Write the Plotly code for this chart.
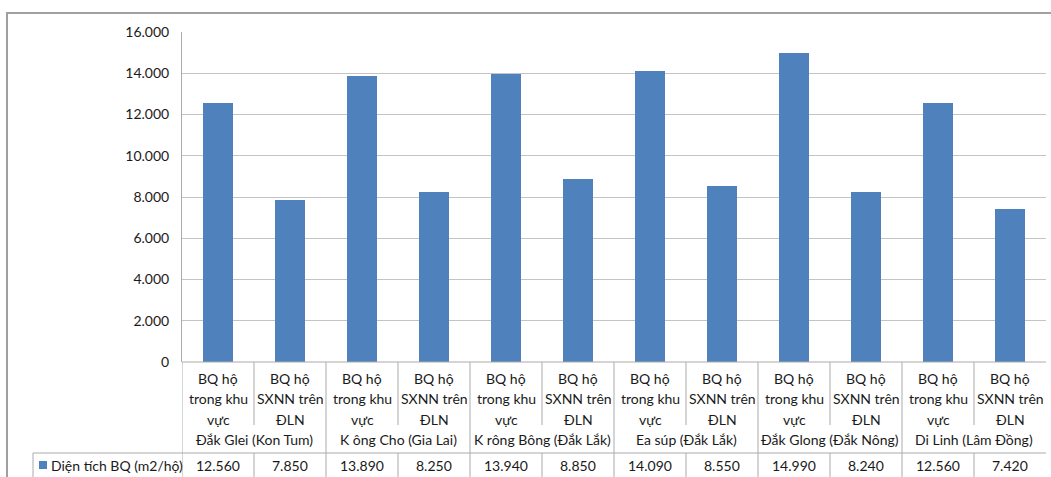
import plotly.graph_objects as go

# Bars: two indicators per district
districts = ["Đắk Glei (Kon Tum)", "K ông Cho (Gia Lai)", "K rông Bông (Đắk Lắk)",
             "Ea súp (Đắk Lắk)", "Đắk Glong (Đắk Nông)", "Di Linh (Lâm Đồng)"]
indicators = [["BQ hộ", "trong khu", "vực"], ["BQ hộ", "SXNN trên", "ĐLN"]]
values = [12560, 7850, 13890, 8250, 13940, 8850,
          14090, 8550, 14990, 8240, 12560, 7420]
series_name = "Diện tích BQ (m2/hộ)"
y_ticks = [0, 2000, 4000, 6000, 8000, 10000, 12000, 14000, 16000]

W, H = 1051, 477
BLUE = "#4F81BD"
GRID = "#c4c4c4"
LINE = "#ababab"
FONT = "Lato"
FS = 14
TXT = "#1a1a1a"

# pixel helpers for the table drawn under the plot area
def py(p):
    return 1 - p / H

def px(p):
    return p / W

x_left, x_right = 182, 1046
y_top, y_zero = 32, 362
y_cat_end, y_row_top = 425, 453

n = len(values)
xs = list(range(n))

fig = go.Figure()
fig.add_trace(go.Bar(
    x=xs, y=values, name=series_name,
    marker=dict(color=BLUE, line=dict(width=0)),
    width=0.41, showlegend=False,
))

shapes = []
annotations = []
lw = dict(color=LINE, width=1)

# horizontal rules: axis baseline and top of the data row
shapes.append(dict(type="line", xref="paper", yref="paper",
                   x0=px(x_left), x1=px(x_right), y0=py(y_zero), y1=py(y_zero), line=lw))
shapes.append(dict(type="line", xref="paper", yref="paper",
                   x0=px(33), x1=px(x_right), y0=py(y_row_top), y1=py(y_row_top), line=lw))
shapes.append(dict(type="line", xref="paper", yref="paper",
                   x0=px(33), x1=px(33), y0=py(y_row_top), y1=-0.02, line=lw))

# vertical dividers between columns (no rule after the last column)
for k in range(n):
    xb = k - 0.5
    group_edge = (k % 2 == 0)
    shapes.append(dict(type="line", xref="x", yref="paper",
                       x0=xb, x1=xb, y0=py(y_zero),
                       y1=py(y_row_top if group_edge else y_cat_end), line=lw))
    shapes.append(dict(type="line", xref="x", yref="paper",
                       x0=xb, x1=xb, y0=py(y_row_top), y1=-0.02, line=lw))

def label(x, y, text, xref="x", xanchor="center"):
    annotations.append(dict(x=x, y=py(y), xref=xref, yref="paper",
                            text=text, showarrow=False,
                            xanchor=xanchor, yanchor="middle",
                            font=dict(family=FONT, size=FS, color=TXT)))

# category labels (three lines each), group labels and values
for i, v in enumerate(values):
    for j, line in enumerate(indicators[i % 2]):
        label(i, 378 + 20.5 * j, line)
    label(i, 465, f"{v:,}".replace(",", "."))
for g, name in enumerate(districts):
    label(2 * g + 0.5, 439, name)

# legend key inside the data row
shapes.append(dict(type="rect", xref="paper", yref="paper",
                   x0=px(39), x1=px(47), y0=py(469), y1=py(461),
                   fillcolor=BLUE, line=dict(width=0)))
label(px(49), 465, series_name, xref="paper", xanchor="left")

# chart frame
shapes.append(dict(type="rect", xref="paper", yref="paper",
                   x0=px(7), x1=1.02, y0=-0.05, y1=py(13),
                   line=dict(color="#a0a0a0", width=2), fillcolor="rgba(0,0,0,0)"))

fig.update_layout(
    width=W, height=H,
    margin=dict(l=0, r=0, t=0, b=0, autoexpand=False),
    paper_bgcolor="white", plot_bgcolor="white",
    separators=",.",
    bargap=0,
    shapes=shapes,
    annotations=annotations,
    font=dict(family=FONT, size=FS, color=TXT),
)
fig.update_xaxes(
    domain=[px(x_left), px(x_right)],
    range=[-0.5, n - 0.5],
    showticklabels=False, showgrid=False, zeroline=False, showline=False,
    ticks="", automargin=False,
)
fig.update_yaxes(
    domain=[py(y_zero), py(y_top)],
    range=[0, 16000],
    tickvals=y_ticks,
    tickformat=",d",
    showgrid=True, gridcolor=GRID, gridwidth=1,
    zeroline=False,
    showline=True, linecolor=LINE, linewidth=1,
    ticks="", ticklabelstandoff=9, automargin=False,
    tickfont=dict(family=FONT, size=FS, color=TXT),
)

fig.write_html("out.html")
